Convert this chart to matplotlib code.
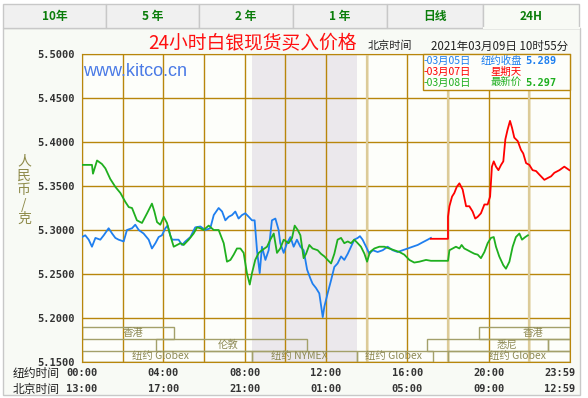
import matplotlib
matplotlib.use("Agg")
import matplotlib.pyplot as plt
from matplotlib.patches import Rectangle
from matplotlib import ticker

CJK = ["Noto Sans CJK SC", "DejaVu Sans"]
MONO = "DejaVu Sans Mono"

# 03月05日 纽约收盘 (blue), hours in New York time
blue_t = [0.00, 0.16, 0.33, 0.49, 0.66, 0.90, 1.07, 1.31, 1.48, 1.64,
          1.80, 2.05, 2.21, 2.46, 2.62, 2.79, 3.03, 3.28, 3.44, 3.61,
          3.77, 3.93, 4.10, 4.21, 4.34, 4.43, 4.59, 4.75, 4.92, 5.08,
          5.33, 5.57, 5.82, 6.07, 6.31, 6.48, 6.72, 6.89, 7.05, 7.21,
          7.38, 7.54, 7.70, 7.87, 8.03, 8.20, 8.36, 8.49, 8.61, 8.74,
          8.85, 9.02, 9.18, 9.34, 9.51, 9.67, 9.75, 9.92, 10.08, 10.25,
          10.41, 10.57, 10.74, 10.90, 11.07, 11.23, 11.34, 11.51, 11.67, 11.84,
          11.92, 12.08, 12.25, 12.41, 12.57, 12.74, 12.90, 13.07, 13.23, 13.39,
          13.56, 13.67, 13.80, 13.97, 14.13, 14.30, 14.54, 14.79, 15.03, 15.28,
          15.52, 15.77, 16.02, 16.26, 16.51, 16.75, 17.00, 17.16]
blue_v = [5.292, 5.294, 5.289, 5.281, 5.291, 5.289, 5.294, 5.302, 5.296, 5.291,
          5.289, 5.287, 5.300, 5.302, 5.306, 5.300, 5.296, 5.289, 5.279, 5.285,
          5.292, 5.294, 5.302, 5.305, 5.294, 5.289, 5.289, 5.289, 5.283, 5.287,
          5.292, 5.303, 5.304, 5.300, 5.302, 5.317, 5.325, 5.321, 5.311, 5.315,
          5.317, 5.321, 5.313, 5.317, 5.319, 5.315, 5.311, 5.311, 5.276, 5.251,
          5.281, 5.266, 5.277, 5.311, 5.313, 5.300, 5.285, 5.274, 5.285, 5.292,
          5.281, 5.289, 5.281, 5.277, 5.255, 5.245, 5.239, 5.234, 5.228, 5.201,
          5.213, 5.228, 5.243, 5.258, 5.262, 5.270, 5.266, 5.273, 5.281, 5.289,
          5.291, 5.293, 5.289, 5.281, 5.273, 5.277, 5.275, 5.277, 5.281, 5.277,
          5.275, 5.277, 5.279, 5.281, 5.283, 5.286, 5.289, 5.291]

# 03月07日 星期天 (red)
red_t = [17.16, 18.0, 18.0, 18.07, 18.20, 18.31, 18.43, 18.56, 18.72, 18.89,
         19.05, 19.21, 19.34, 19.46, 19.62, 19.79, 19.95, 20.07, 20.16, 20.25,
         20.36, 20.48, 20.61, 20.72, 20.82, 20.93, 21.05, 21.15, 21.26, 21.43,
         21.59, 21.70, 21.84, 22.00, 22.16, 22.33, 22.49, 22.74, 22.90, 23.07,
         23.23, 23.48, 23.72, 23.97]
red_v = [5.290, 5.290, 5.315, 5.327, 5.338, 5.342, 5.349, 5.353, 5.346, 5.327,
         5.327, 5.321, 5.313, 5.315, 5.319, 5.329, 5.329, 5.338, 5.372, 5.378,
         5.372, 5.368, 5.374, 5.378, 5.403, 5.414, 5.424, 5.416, 5.405, 5.401,
         5.391, 5.387, 5.376, 5.374, 5.368, 5.367, 5.363, 5.357, 5.359, 5.361,
         5.365, 5.368, 5.372, 5.368]

# 03月08日 最新价 (green)
green_t = [0.00, 0.49, 0.54, 0.74, 0.98, 1.15, 1.39, 1.64, 1.89, 2.13,
           2.30, 2.46, 2.70, 2.95, 3.20, 3.44, 3.56, 3.69, 3.85, 4.02,
           4.18, 4.34, 4.51, 4.84, 5.00, 5.25, 5.49, 5.66, 5.82, 5.98,
           6.23, 6.48, 6.72, 6.97, 7.13, 7.30, 7.46, 7.62, 7.79, 7.95,
           8.11, 8.25, 8.36, 8.52, 8.69, 8.85, 9.10, 9.26, 9.43, 9.59,
           9.75, 9.92, 10.16, 10.33, 10.46, 10.61, 10.74, 10.90, 11.02, 11.18,
           11.34, 11.59, 11.75, 11.92, 12.08, 12.25, 12.41, 12.57, 12.74, 12.90,
           13.07, 13.23, 13.39, 13.56, 13.72, 13.89, 14.02, 14.16, 14.38, 14.62,
           14.87, 15.11, 15.36, 15.61, 15.85, 16.10, 16.34, 16.59, 16.92, 17.16,
           18.0, 18.07, 18.23, 18.39, 18.56, 18.67, 18.80, 18.97, 19.13, 19.30,
           19.46, 19.62, 19.79, 19.95, 20.11, 20.25, 20.36, 20.52, 20.72, 20.85,
           21.02, 21.18, 21.34, 21.51, 21.64, 21.80, 21.93]
green_v = [5.374, 5.374, 5.364, 5.379, 5.375, 5.370, 5.358, 5.349, 5.342, 5.332,
           5.326, 5.325, 5.311, 5.308, 5.319, 5.330, 5.321, 5.309, 5.306, 5.315,
           5.308, 5.294, 5.281, 5.285, 5.283, 5.289, 5.296, 5.303, 5.302, 5.300,
           5.305, 5.300, 5.300, 5.285, 5.264, 5.266, 5.272, 5.279, 5.279, 5.274,
           5.251, 5.238, 5.251, 5.266, 5.274, 5.277, 5.281, 5.289, 5.296, 5.274,
           5.279, 5.289, 5.285, 5.291, 5.305, 5.300, 5.294, 5.268, 5.273, 5.283,
           5.279, 5.277, 5.273, 5.270, 5.266, 5.262, 5.273, 5.289, 5.291, 5.285,
           5.287, 5.285, 5.289, 5.285, 5.281, 5.273, 5.264, 5.275, 5.279, 5.281,
           5.281, 5.279, 5.277, 5.275, 5.272, 5.266, 5.263, 5.264, 5.266, 5.265,
           5.265, 5.277, 5.279, 5.281, 5.279, 5.283, 5.279, 5.277, 5.275, 5.273,
           5.272, 5.268, 5.275, 5.285, 5.291, 5.292, 5.281, 5.270, 5.260, 5.256,
           5.264, 5.281, 5.292, 5.296, 5.289, 5.292, 5.294]

tabs = ["10年", "5 年", "2 年", "1 年", "日线", "24H"]
ny_ticks = ["00:00", "04:00", "08:00", "12:00", "16:00", "20:00", "23:59"]
bj_ticks = ["13:00", "17:00", "21:00", "01:00", "05:00", "09:00", "12:59"]
tick_hours = [0, 4, 8, 12, 16, 20, 23.5]

# trading sessions: name, row (0 top), start hour, end hour, label hour
sess_name = ["香港", "伦敦", "纽约 Globex", "纽约 NYMEX", "纽约 Globex",
             "纽约 Globex", "香港", "悉尼", ""]
sess_row = [0, 1, 2, 2, 2, 2, 0, 1, 1]
sess_start = [0, 3.65, 0, 8.36, 13.53, 18.0, 19.5, 16.98, 22.9]
sess_end = [4.5, 11.05, 8.36, 13.53, 17.27, 24, 24, 22.9, 24]
sess_label = [2.5, 7.2, 3.85, 10.7, 15.3, 21.4, 22.2, 20.9, 23.5]
nymex = (8.36, 13.53)

GRID = "#b8860b"
OLIVE = "#a3a06a"

fig = plt.figure(figsize=(5.88, 3.98), dpi=100)
fig.patch.set_facecolor("white")

# background layer in pixel coordinates
bg = fig.add_axes([0, 0, 1, 1], zorder=0)
bg.set_xlim(0, 588)
bg.set_ylim(398, 0)
bg.axis("off")
bg.add_patch(Rectangle((3, 28), 577, 367, facecolor="#f8faf5",
                       edgecolor="#c8c8c8", lw=1))
edges = [3, 106, 199, 293, 387, 483, 579]
for i, name in enumerate(tabs):
    active = i == len(tabs) - 1
    x0, x1 = edges[i], edges[i + 1]
    bg.add_patch(Rectangle((x0, 4), x1 - x0, 24,
                           facecolor="#f8faf5" if active else "#f0f0f0",
                           edgecolor="#c8c8c8", lw=1))
    if active:
        bg.plot([x0 + 0.5, x1 - 0.5], [28, 28], color="#f8faf5", lw=1.5)
    bg.text((x0 + x1) / 2, 16.5, name, ha="center", va="center",
            color="#0a7d0a", fontsize=8.5, fontweight="bold", family=CJK)

# main plot
ax = fig.add_axes([82 / 588, 36 / 398, 488 / 588, 308 / 398], zorder=1)
ax.set_facecolor("#fdfefa")
ax.set_xlim(0, 24)
ax.set_ylim(5.15, 5.50)
ax.axvspan(*nymex, color="#ebe8ec", lw=0, zorder=0.2)
ax.set_yticks([5.15 + 0.05 * i for i in range(8)])
ax.set_xticks(range(0, 25, 2))
ax.yaxis.set_major_formatter(ticker.FuncFormatter(lambda v, p: f"{v:.4f}"))
ax.set_xticklabels([])
ax.tick_params(length=0, pad=5, labelsize=7.5, labelcolor="#333333")
for lab in ax.get_yticklabels():
    lab.set_family(MONO)
    lab.set_fontweight("bold")
ax.grid(color=GRID, lw=1, zorder=0.5)
ax.set_axisbelow(True)
for h in (14, 18, 22):
    ax.axvline(h, color="#dccb98", lw=1.6, zorder=0.6)
for s in ax.spines.values():
    s.set_color(GRID)

row_bounds = [(5.1898, 5.1761), (5.1761, 5.1625), (5.1625, 5.15)]
for name, row, a, b, lx in zip(sess_name, sess_row, sess_start,
                               sess_end, sess_label):
    top, bot = row_bounds[row]
    ax.add_patch(Rectangle((a, bot), b - a, top - bot, fill=False,
                           edgecolor=OLIVE, lw=1, zorder=1.5))
    if name:
        ax.text(lx, (top + bot) / 2, name, ha="center", va="center",
                fontsize=7.5, color="#8e8a55", family=CJK, zorder=1.6)

ax.plot(blue_t, blue_v, color="#1f7fef", lw=1.3, zorder=3)
ax.plot(green_t, green_v, color="#1faf1f", lw=1.3, zorder=3)
ax.plot(red_t, red_v, color="#ff0000", lw=1.3, zorder=3)

xt = ax.get_xaxis_transform()
for h, a, b in zip(tick_hours, ny_ticks, bj_ticks):
    ax.text(h, -0.036, a, transform=xt, ha="center", va="center",
            family=MONO, fontweight="bold", fontsize=7.5, color="#333333")
    ax.text(h, -0.088, b, transform=xt, ha="center", va="center",
            family=MONO, fontweight="bold", fontsize=7.5, color="#333333")

# overlay for titles and legend
top = fig.add_axes([0, 0, 1, 1], zorder=3)
top.set_xlim(0, 588)
top.set_ylim(398, 0)
top.axis("off")
top.patch.set_alpha(0)
top.text(252, 44, "24小时白银现货买入价格", ha="center", va="center",
         color="#ff1010", fontsize=13.5, family=CJK)
top.text(368, 46, "北京时间", ha="left", va="center", color="#222222",
         fontsize=8, family=CJK)
top.text(568, 46, "2021年03月09日 10时55分", ha="right", va="center",
         color="#222222", fontsize=8.3, family=CJK)
top.text(83, 71, "www.kitco.cn", ha="left", va="center", color="#4a7ae6",
         fontsize=13, family="Liberation Sans")
top.text(24, 190, "人\n民\n币\n/\n克", ha="center", va="center",
         color="#8e8a4a", fontsize=10, family=CJK, linespacing=1.05)
top.text(36, 374, "纽约时间", ha="center", va="center", color="#222222",
         fontsize=8.5, family=CJK)
top.text(36, 390, "北京时间", ha="center", va="center", color="#222222",
         fontsize=8.5, family=CJK)

top.add_patch(Rectangle((423, 54), 147, 36, facecolor="#fdfefa",
                        edgecolor=GRID, lw=1))
legend_rows = [("-03月05日", "纽约收盘", "5.289", "#1f7fef", 61),
               ("-03月07日", "星期天", "", "#ff0000", 72),
               ("-03月08日", "最新价", "5.297", "#1faf1f", 83)]
for date, label, val, col, y in legend_rows:
    top.text(424, y, date, ha="left", va="center", color=col,
             fontsize=7.5, family=CJK)
    top.text(522, y, label, ha="right", va="center", color=col,
             fontsize=7.5, family=CJK)
    if val:
        top.text(525, y, val, ha="left", va="center", color=col,
                 fontsize=7.5, family=MONO, fontweight="bold")

fig.savefig("out.png", dpi=100)
